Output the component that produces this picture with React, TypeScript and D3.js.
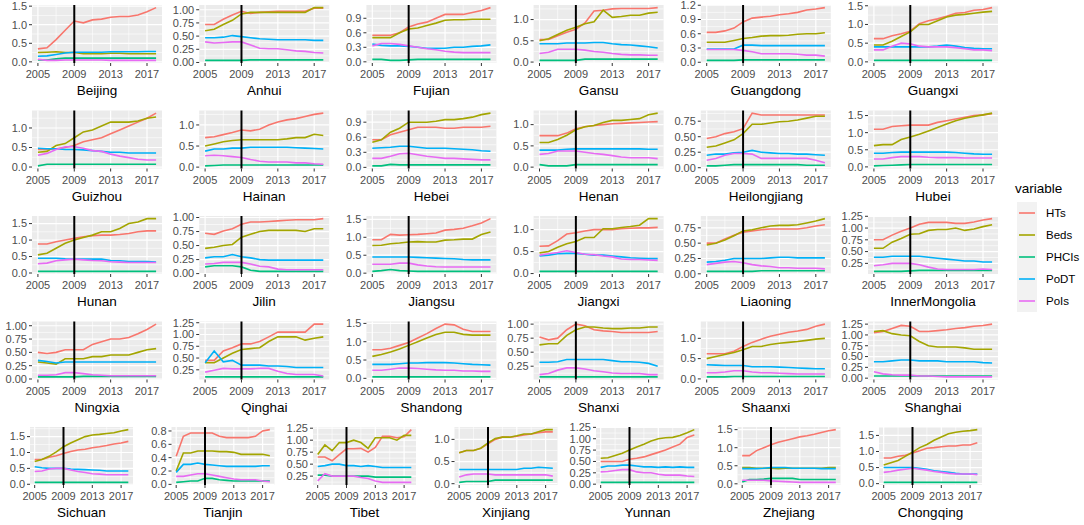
import React from 'react';
import * as d3 from 'd3';

const FONT = '"Liberation Sans", Arial, sans-serif';

const years = [2005, 2006, 2007, 2008, 2009, 2010, 2011, 2012, 2013, 2014, 2015, 2016, 2017, 2018];
const xTicks = [2005, 2009, 2013, 2017];
const reformYear = 2009;

const provinces = [
  'Beijing', 'Anhui', 'Fujian', 'Gansu', 'Guangdong', 'Guangxi',
  'Guizhou', 'Hainan', 'Hebei', 'Henan', 'Heilongjiang', 'Hubei',
  'Hunan', 'Jilin', 'Jiangsu', 'Jiangxi', 'Liaoning', 'InnerMongolia',
  'Ningxia', 'Qinghai', 'Shandong', 'Shanxi', 'Shaanxi', 'Shanghai',
  'Sichuan', 'Tianjin', 'Tibet', 'Xinjiang', 'Yunnan', 'Zhejiang', 'Chongqing',
];

const seriesNames = ['HTs', 'Beds', 'PHCIs', 'PoDT', 'PoIs'];
const colors = ['#F8766D', '#A3A500', '#00BF7D', '#00B0F6', '#E76BF3'];

// one row per province, same order as provinces
const HTs: number[][] = [
  [0.35, 0.38, 0.6, 0.85, 1.1, 1.05, 1.13, 1.15, 1.2, 1.22, 1.22, 1.26, 1.35, 1.46],
  [0.72, 0.72, 0.82, 0.9, 0.97, 0.93, 0.95, 0.96, 0.97, 0.97, 0.97, 0.97, 1.03, 1.03],
  [0.55, 0.55, 0.55, 0.6, 0.72, 0.78, 0.82, 0.9, 0.98, 0.98, 0.98, 1.02, 1.06, 1.12],
  [0.53, 0.53, 0.62, 0.7, 0.77, 0.92, 1.2, 1.22, 1.25, 1.26, 1.26, 1.26, 1.26, 1.28],
  [0.63, 0.63, 0.66, 0.72, 0.85, 0.93, 0.95, 0.97, 1.0, 1.02, 1.05, 1.1, 1.12, 1.15],
  [0.62, 0.62, 0.7, 0.75, 0.82, 1.02, 1.1, 1.15, 1.22, 1.3, 1.32, 1.38, 1.4, 1.45],
  [0.45, 0.45, 0.47, 0.5, 0.55, 0.65, 0.7, 0.75, 0.85, 0.95, 1.05, 1.15, 1.25, 1.38],
  [0.7, 0.72, 0.77, 0.82, 0.88, 0.86, 0.9, 1.0, 1.07, 1.12, 1.15, 1.2, 1.25, 1.28],
  [0.55, 0.55, 0.65, 0.7, 0.75, 0.8, 0.8, 0.8, 0.78, 0.78, 0.8, 0.8, 0.8, 0.82],
  [0.74, 0.74, 0.74, 0.8, 0.9, 0.95, 0.98, 1.0, 1.02, 1.03, 1.04, 1.05, 1.06, 1.07],
  [0.47, 0.5, 0.55, 0.58, 0.63, 0.88, 0.85, 0.85, 0.85, 0.85, 0.85, 0.85, 0.85, 0.85],
  [1.1, 1.1, 1.18, 1.2, 1.22, 1.22, 1.22, 1.3, 1.35, 1.4, 1.45, 1.5, 1.52, 1.55],
  [0.88, 0.88, 0.95, 1.0, 1.05, 1.1, 1.13, 1.15, 1.15, 1.17, 1.2, 1.25, 1.28, 1.28],
  [0.72, 0.7, 0.76, 0.8, 0.88, 0.92, 0.92, 0.93, 0.94, 0.95, 0.96, 0.96, 0.96, 0.98],
  [0.93, 0.93, 1.08, 1.06, 1.07, 1.08, 1.1, 1.12, 1.2, 1.22, 1.25, 1.32, 1.4, 1.52],
  [0.62, 0.63, 0.75, 0.9, 0.93, 0.97, 1.0, 1.0, 1.0, 1.02, 1.03, 1.04, 1.04, 1.05],
  [0.5, 0.5, 0.57, 0.63, 0.68, 0.7, 0.72, 0.73, 0.73, 0.73, 0.73, 0.75, 0.78, 0.8],
  [0.75, 0.75, 0.85, 0.93, 1.0, 1.08, 1.12, 1.12, 1.12, 1.1, 1.1, 1.13, 1.17, 1.2],
  [0.5, 0.48, 0.5, 0.55, 0.55, 0.55, 0.65, 0.7, 0.75, 0.75, 0.78, 0.85, 0.93, 1.03],
  [0.45, 0.45, 0.65, 0.72, 0.8, 0.8, 0.85, 0.95, 1.05, 1.05, 1.05, 1.05, 1.22, 1.22],
  [0.78, 0.78, 0.82, 0.9, 0.98, 1.1, 1.22, 1.36, 1.48, 1.46, 1.34, 1.28, 1.28, 1.28],
  [0.77, 0.72, 0.75, 0.9, 1.0, 0.97, 0.9, 0.88, 0.87, 0.85, 0.85, 0.85, 0.85, 0.87],
  [0.62, 0.62, 0.62, 0.68, 0.8, 0.9, 0.98, 1.05, 1.1, 1.15, 1.18, 1.22, 1.3, 1.35],
  [1.05, 1.08, 1.15, 1.22, 1.2, 1.08, 1.08, 1.1, 1.12, 1.15, 1.17, 1.2, 1.22, 1.25],
  [0.78, 0.78, 0.85, 0.9, 0.97, 1.03, 1.08, 1.1, 1.15, 1.18, 1.22, 1.27, 1.3, 1.35],
  [0.42, 0.72, 0.77, 0.77, 0.77, 0.77, 0.72, 0.7, 0.7, 0.7, 0.7, 0.72, 0.8, 0.82],
  [0.65, 0.65, 0.57, 0.7, 0.82, 0.82, 0.83, 0.75, 0.85, 1.08, 1.08, 1.05, 1.07, 1.22],
  [0.7, 0.75, 0.75, 0.8, 0.9, 1.0, 1.05, 1.05, 1.07, 1.1, 1.12, 1.15, 1.17, 1.17],
  [0.5, 0.5, 0.5, 0.5, 0.55, 0.57, 0.6, 0.65, 0.7, 0.75, 0.82, 0.88, 1.03, 1.08],
  [0.78, 0.78, 0.92, 1.0, 1.08, 1.15, 1.2, 1.25, 1.3, 1.33, 1.37, 1.42, 1.47, 1.5],
  [0.8, 0.8, 0.85, 0.88, 0.95, 1.02, 1.1, 1.12, 1.15, 1.17, 1.17, 1.2, 1.2, 1.27],
];

const Beds: number[][] = [
  [0.25, 0.26, 0.27, 0.25, 0.25, 0.22, 0.22, 0.22, 0.23, 0.23, 0.22, 0.22, 0.22, 0.22],
  [0.6, 0.63, 0.72, 0.8, 0.92, 0.95, 0.95, 0.95, 0.95, 0.95, 0.95, 0.95, 1.04, 1.04],
  [0.5, 0.5, 0.5, 0.6, 0.68, 0.7, 0.75, 0.8, 0.86, 0.87, 0.87, 0.88, 0.88, 0.88],
  [0.5, 0.55, 0.65, 0.75, 0.82, 0.9, 0.95, 1.22, 1.05, 1.07, 1.1, 1.1, 1.15, 1.17],
  [0.42, 0.42, 0.42, 0.46, 0.5, 0.52, 0.55, 0.56, 0.56, 0.57, 0.59, 0.6, 0.6, 0.62],
  [0.45, 0.45, 0.55, 0.68, 0.8, 1.0, 1.0, 1.1, 1.2, 1.25, 1.27, 1.3, 1.33, 1.35],
  [0.38, 0.4, 0.55, 0.6, 0.75, 0.9, 0.95, 1.05, 1.15, 1.15, 1.15, 1.18, 1.25, 1.28],
  [0.5, 0.55, 0.6, 0.63, 0.65, 0.65, 0.65, 0.65, 0.65, 0.67, 0.7, 0.7, 0.78, 0.75],
  [0.5, 0.55, 0.7, 0.78, 0.9, 0.9, 0.9, 0.92, 0.95, 0.95, 0.97, 1.0, 1.05, 1.08],
  [0.58, 0.58, 0.65, 0.75, 0.88, 0.95, 0.98, 1.05, 1.1, 1.1, 1.12, 1.14, 1.23, 1.27],
  [0.33, 0.35, 0.4, 0.45, 0.55, 0.7, 0.7, 0.72, 0.74, 0.75, 0.77, 0.8, 0.83, 0.83],
  [0.62, 0.65, 0.65, 0.8, 0.87, 0.95, 1.05, 1.15, 1.25, 1.35, 1.42, 1.47, 1.52, 1.57],
  [0.55, 0.6, 0.75, 0.9, 1.0, 1.08, 1.15, 1.25, 1.25, 1.35, 1.5, 1.55, 1.65, 1.65],
  [0.45, 0.47, 0.5, 0.52, 0.65, 0.7, 0.75, 0.77, 0.77, 0.77, 0.77, 0.75, 0.8, 0.8],
  [0.77, 0.78, 0.82, 0.84, 0.87, 0.88, 0.87, 0.87, 0.92, 0.93, 0.95, 0.95, 1.08, 1.15],
  [0.47, 0.5, 0.6, 0.68, 0.73, 0.82, 0.82, 1.02, 1.02, 1.05, 1.07, 1.1, 1.25, 1.25],
  [0.47, 0.5, 0.55, 0.62, 0.7, 0.72, 0.75, 0.78, 0.79, 0.79, 0.8, 0.83, 0.86, 0.9],
  [0.57, 0.57, 0.7, 0.78, 0.87, 0.88, 0.95, 0.97, 0.97, 1.0, 0.95, 0.98, 1.03, 1.07],
  [0.32, 0.3, 0.28, 0.38, 0.38, 0.38, 0.42, 0.42, 0.45, 0.45, 0.45, 0.5, 0.55, 0.57],
  [0.4, 0.4, 0.5, 0.6, 0.68, 0.7, 0.72, 0.85, 0.95, 0.95, 0.95, 0.88, 0.92, 0.95],
  [0.6, 0.65, 0.72, 0.8, 0.9, 1.0, 1.1, 1.2, 1.26, 1.26, 1.2, 1.18, 1.18, 1.18],
  [0.63, 0.65, 0.65, 0.8, 0.9, 0.95, 0.95, 0.93, 0.92, 0.92, 0.93, 0.93, 0.95, 0.95],
  [0.5, 0.55, 0.6, 0.65, 0.72, 0.8, 0.8, 0.85, 0.88, 0.9, 0.92, 0.95, 0.98, 1.0],
  [1.08, 1.1, 1.03, 1.0, 0.98, 0.85, 0.75, 0.72, 0.72, 0.72, 0.7, 0.67, 0.67, 0.67],
  [0.72, 0.78, 0.88, 1.02, 1.18, 1.3, 1.4, 1.5, 1.55, 1.57, 1.6, 1.62, 1.68, 1.72],
  [0.2, 0.47, 0.47, 0.5, 0.5, 0.5, 0.49, 0.49, 0.48, 0.45, 0.45, 0.45, 0.45, 0.43],
  [0.7, 0.9, 0.78, 0.95, 0.95, 1.0, 0.95, 0.83, 1.05, 1.05, 1.05, 1.0, 1.1, 1.1],
  [0.7, 0.75, 0.75, 0.8, 0.92, 1.02, 1.05, 1.05, 1.08, 1.12, 1.12, 1.17, 1.22, 1.22],
  [0.57, 0.58, 0.63, 0.68, 0.75, 0.82, 0.88, 0.95, 1.0, 1.02, 1.03, 1.07, 1.13, 1.2],
  [0.45, 0.45, 0.43, 0.43, 0.43, 0.42, 0.43, 0.43, 0.43, 0.43, 0.43, 0.43, 0.45, 0.45],
  [0.58, 0.65, 0.72, 0.85, 0.98, 1.12, 1.22, 1.35, 1.45, 1.55, 1.6, 1.63, 1.65, 1.68],
];

const PHCIs: number[][] = [
  [0.05, 0.05, 0.08, 0.1, 0.1, 0.1, 0.1, 0.1, 0.1, 0.1, 0.1, 0.1, 0.1, 0.1],
  [0.04, 0.04, 0.04, 0.04, 0.04, 0.05, 0.05, 0.05, 0.05, 0.05, 0.05, 0.05, 0.05, 0.05],
  [0.05, 0.05, 0.03, 0.03, 0.04, 0.05, 0.05, 0.05, 0.05, 0.05, 0.05, 0.05, 0.05, 0.05],
  [0.04, 0.04, 0.04, 0.04, 0.04, 0.07, 0.07, 0.07, 0.07, 0.07, 0.07, 0.07, 0.07, 0.07],
  [0.04, 0.04, 0.04, 0.04, 0.05, 0.05, 0.05, 0.05, 0.05, 0.05, 0.05, 0.05, 0.05, 0.05],
  [0.04, 0.04, 0.04, 0.04, 0.04, 0.04, 0.04, 0.04, 0.04, 0.04, 0.04, 0.04, 0.04, 0.04],
  [0.03, 0.07, 0.07, 0.07, 0.07, 0.07, 0.07, 0.07, 0.07, 0.07, 0.07, 0.07, 0.07, 0.07],
  [0.03, 0.04, 0.05, 0.05, 0.05, 0.05, 0.05, 0.05, 0.05, 0.05, 0.05, 0.05, 0.05, 0.05],
  [0.03, 0.03, 0.06, 0.05, 0.05, 0.05, 0.05, 0.05, 0.05, 0.05, 0.05, 0.05, 0.05, 0.05],
  [0.06, 0.03, 0.03, 0.03, 0.06, 0.06, 0.06, 0.06, 0.06, 0.06, 0.06, 0.06, 0.06, 0.06],
  [0.03, 0.03, 0.04, 0.05, 0.05, 0.05, 0.05, 0.05, 0.05, 0.05, 0.05, 0.04, 0.04, 0.04],
  [0.03, 0.04, 0.05, 0.06, 0.07, 0.07, 0.07, 0.07, 0.07, 0.07, 0.07, 0.07, 0.07, 0.07],
  [0.05, 0.05, 0.05, 0.05, 0.05, 0.05, 0.05, 0.05, 0.05, 0.05, 0.05, 0.05, 0.05, 0.05],
  [0.12, 0.14, 0.14, 0.14, 0.12, 0.06, 0.04, 0.04, 0.04, 0.04, 0.04, 0.04, 0.04, 0.04],
  [0.05, 0.07, 0.1, 0.07, 0.06, 0.05, 0.05, 0.05, 0.05, 0.05, 0.05, 0.05, 0.05, 0.05],
  [0.05, 0.05, 0.05, 0.05, 0.05, 0.05, 0.05, 0.05, 0.05, 0.05, 0.05, 0.05, 0.05, 0.05],
  [0.04, 0.04, 0.04, 0.04, 0.04, 0.04, 0.05, 0.05, 0.05, 0.05, 0.05, 0.05, 0.05, 0.05],
  [0.08, 0.08, 0.08, 0.08, 0.09, 0.1, 0.1, 0.1, 0.1, 0.1, 0.1, 0.1, 0.1, 0.1],
  [0.04, 0.04, 0.04, 0.04, 0.04, 0.05, 0.05, 0.05, 0.05, 0.05, 0.05, 0.05, 0.05, 0.05],
  [0.1, 0.1, 0.1, 0.1, 0.1, 0.1, 0.1, 0.1, 0.1, 0.1, 0.1, 0.1, 0.1, 0.1],
  [0.04, 0.04, 0.04, 0.04, 0.04, 0.04, 0.04, 0.04, 0.04, 0.04, 0.04, 0.04, 0.04, 0.04],
  [0.06, 0.06, 0.06, 0.06, 0.06, 0.06, 0.06, 0.06, 0.06, 0.06, 0.06, 0.06, 0.06, 0.06],
  [0.05, 0.05, 0.05, 0.06, 0.06, 0.06, 0.06, 0.06, 0.06, 0.06, 0.06, 0.06, 0.06, 0.06],
  [0.05, 0.05, 0.05, 0.05, 0.05, 0.05, 0.05, 0.05, 0.05, 0.05, 0.05, 0.05, 0.05, 0.05],
  [0.06, 0.06, 0.06, 0.06, 0.06, 0.06, 0.06, 0.06, 0.06, 0.06, 0.06, 0.06, 0.06, 0.06],
  [0.03, 0.04, 0.05, 0.05, 0.09, 0.09, 0.07, 0.06, 0.05, 0.05, 0.05, 0.05, 0.05, 0.05],
  [0.27, 0.27, 0.25, 0.25, 0.25, 0.25, 0.25, 0.25, 0.23, 0.23, 0.23, 0.23, 0.23, 0.23],
  [0.03, 0.05, 0.05, 0.05, 0.05, 0.08, 0.08, 0.08, 0.08, 0.08, 0.08, 0.08, 0.08, 0.08],
  [0.04, 0.04, 0.04, 0.04, 0.04, 0.04, 0.04, 0.04, 0.04, 0.04, 0.04, 0.04, 0.04, 0.04],
  [0.05, 0.12, 0.12, 0.13, 0.15, 0.15, 0.15, 0.15, 0.12, 0.12, 0.12, 0.12, 0.12, 0.12],
  [0.04, 0.04, 0.04, 0.04, 0.04, 0.04, 0.04, 0.04, 0.04, 0.04, 0.04, 0.04, 0.04, 0.04],
];

const PoDT: number[][] = [
  [0.15, 0.16, 0.2, 0.24, 0.26, 0.26, 0.26, 0.26, 0.27, 0.27, 0.27, 0.27, 0.28, 0.28],
  [0.47, 0.47, 0.48, 0.51, 0.49, 0.47, 0.45, 0.44, 0.43, 0.43, 0.43, 0.43, 0.42, 0.42],
  [0.37, 0.34, 0.33, 0.33, 0.32, 0.3, 0.28, 0.28, 0.28, 0.3, 0.3, 0.32, 0.33, 0.35],
  [0.43, 0.43, 0.43, 0.45, 0.45, 0.45, 0.46, 0.46, 0.43, 0.41, 0.4, 0.38, 0.36, 0.33],
  [0.28, 0.28, 0.28, 0.28, 0.36, 0.36, 0.35, 0.35, 0.35, 0.35, 0.35, 0.35, 0.35, 0.35],
  [0.4, 0.4, 0.4, 0.4, 0.4, 0.4, 0.4, 0.42, 0.45, 0.42, 0.38, 0.36, 0.35, 0.35],
  [0.48, 0.47, 0.47, 0.45, 0.45, 0.44, 0.42, 0.4, 0.38, 0.38, 0.36, 0.36, 0.36, 0.36],
  [0.38, 0.43, 0.43, 0.45, 0.45, 0.47, 0.47, 0.47, 0.47, 0.47, 0.46, 0.45, 0.44, 0.43],
  [0.38, 0.39, 0.4, 0.42, 0.42, 0.4, 0.38, 0.38, 0.38, 0.37, 0.36, 0.35, 0.33, 0.32],
  [0.4, 0.4, 0.4, 0.42, 0.43, 0.43, 0.43, 0.43, 0.43, 0.43, 0.43, 0.43, 0.42, 0.42],
  [0.2, 0.22, 0.22, 0.24, 0.25, 0.28, 0.25, 0.24, 0.23, 0.23, 0.22, 0.22, 0.21, 0.2],
  [0.4, 0.4, 0.42, 0.43, 0.43, 0.43, 0.43, 0.43, 0.43, 0.42, 0.4, 0.38, 0.37, 0.37],
  [0.45, 0.45, 0.45, 0.43, 0.42, 0.42, 0.42, 0.42, 0.38, 0.37, 0.35, 0.35, 0.35, 0.33],
  [0.28, 0.3, 0.3, 0.34, 0.3, 0.28, 0.25, 0.24, 0.24, 0.24, 0.24, 0.24, 0.24, 0.24],
  [0.45, 0.45, 0.45, 0.45, 0.45, 0.44, 0.43, 0.42, 0.41, 0.4, 0.38, 0.37, 0.37, 0.37],
  [0.4, 0.42, 0.45, 0.46, 0.46, 0.44, 0.42, 0.42, 0.4, 0.38, 0.36, 0.35, 0.34, 0.34],
  [0.19, 0.2, 0.22, 0.25, 0.25, 0.25, 0.25, 0.26, 0.27, 0.27, 0.26, 0.26, 0.26, 0.26],
  [0.38, 0.38, 0.4, 0.4, 0.4, 0.4, 0.38, 0.36, 0.34, 0.32, 0.3, 0.3, 0.28, 0.28],
  [0.35, 0.33, 0.3, 0.32, 0.32, 0.32, 0.32, 0.32, 0.32, 0.32, 0.32, 0.32, 0.32, 0.32],
  [0.4, 0.65, 0.42, 0.45, 0.35, 0.35, 0.35, 0.33, 0.33, 0.32, 0.3, 0.3, 0.3, 0.3],
  [0.38, 0.38, 0.38, 0.4, 0.42, 0.42, 0.43, 0.43, 0.43, 0.42, 0.4, 0.38, 0.37, 0.36],
  [0.32, 0.32, 0.33, 0.37, 0.37, 0.37, 0.37, 0.37, 0.35, 0.33, 0.33, 0.32, 0.3, 0.25],
  [0.35, 0.34, 0.33, 0.33, 0.33, 0.3, 0.3, 0.3, 0.29, 0.28, 0.27, 0.26, 0.25, 0.25],
  [0.38, 0.38, 0.4, 0.42, 0.42, 0.4, 0.4, 0.4, 0.38, 0.38, 0.38, 0.38, 0.36, 0.35],
  [0.55, 0.52, 0.5, 0.5, 0.5, 0.48, 0.47, 0.46, 0.45, 0.44, 0.42, 0.42, 0.42, 0.42],
  [0.18, 0.3, 0.3, 0.32, 0.3, 0.29, 0.28, 0.27, 0.27, 0.27, 0.27, 0.27, 0.28, 0.28],
  [0.45, 0.47, 0.5, 0.5, 0.47, 0.47, 0.45, 0.47, 0.45, 0.43, 0.43, 0.43, 0.43, 0.43],
  [0.32, 0.32, 0.32, 0.32, 0.32, 0.32, 0.32, 0.32, 0.32, 0.35, 0.35, 0.37, 0.36, 0.35],
  [0.37, 0.4, 0.4, 0.42, 0.42, 0.4, 0.38, 0.38, 0.37, 0.38, 0.37, 0.38, 0.37, 0.37],
  [0.42, 0.42, 0.42, 0.43, 0.45, 0.45, 0.45, 0.43, 0.43, 0.43, 0.43, 0.42, 0.42, 0.42],
  [0.5, 0.5, 0.5, 0.5, 0.5, 0.48, 0.45, 0.4, 0.38, 0.35, 0.32, 0.3, 0.3, 0.3],
];

const PoIs: number[][] = [
  [0.07, 0.04, 0.04, 0.05, 0.05, 0.05, 0.05, 0.05, 0.04, 0.04, 0.04, 0.04, 0.04, 0.04],
  [0.39, 0.37, 0.38, 0.39, 0.39, 0.33, 0.27, 0.26, 0.26, 0.24, 0.22, 0.21, 0.19, 0.18],
  [0.33, 0.38, 0.38, 0.36, 0.33, 0.3, 0.27, 0.25, 0.22, 0.2, 0.19, 0.19, 0.19, 0.19],
  [0.2, 0.23, 0.3, 0.3, 0.3, 0.28, 0.25, 0.23, 0.2, 0.18, 0.17, 0.17, 0.16, 0.16],
  [0.27, 0.27, 0.27, 0.27, 0.25, 0.22, 0.18, 0.18, 0.18, 0.18, 0.17, 0.15, 0.15, 0.13],
  [0.32, 0.32, 0.42, 0.5, 0.48, 0.42, 0.4, 0.4, 0.4, 0.38, 0.35, 0.32, 0.32, 0.3],
  [0.3, 0.35, 0.45, 0.52, 0.52, 0.48, 0.42, 0.4, 0.33, 0.28, 0.24, 0.2, 0.18, 0.18],
  [0.27, 0.28, 0.27, 0.25, 0.23, 0.18, 0.14, 0.12, 0.12, 0.12, 0.1, 0.1, 0.08, 0.07],
  [0.18, 0.18, 0.22, 0.27, 0.28, 0.25, 0.22, 0.2, 0.18, 0.18, 0.17, 0.16, 0.15, 0.15],
  [0.3, 0.32, 0.38, 0.38, 0.38, 0.35, 0.32, 0.3, 0.27, 0.24, 0.22, 0.22, 0.22, 0.2],
  [0.12, 0.15, 0.2, 0.23, 0.23, 0.22, 0.15, 0.15, 0.15, 0.15, 0.15, 0.15, 0.12, 0.08],
  [0.23, 0.23, 0.27, 0.3, 0.3, 0.3, 0.28, 0.27, 0.27, 0.27, 0.26, 0.26, 0.26, 0.26],
  [0.28, 0.3, 0.37, 0.4, 0.42, 0.4, 0.38, 0.37, 0.34, 0.33, 0.32, 0.32, 0.32, 0.32],
  [0.17, 0.18, 0.2, 0.2, 0.2, 0.17, 0.13, 0.12, 0.08, 0.07, 0.07, 0.07, 0.07, 0.07],
  [0.25, 0.25, 0.25, 0.28, 0.28, 0.23, 0.2, 0.18, 0.17, 0.17, 0.17, 0.17, 0.17, 0.17],
  [0.42, 0.45, 0.48, 0.52, 0.48, 0.44, 0.43, 0.4, 0.38, 0.33, 0.32, 0.32, 0.31, 0.3],
  [0.15, 0.17, 0.19, 0.2, 0.18, 0.15, 0.13, 0.12, 0.1, 0.1, 0.09, 0.09, 0.09, 0.08],
  [0.2, 0.22, 0.25, 0.25, 0.25, 0.22, 0.17, 0.13, 0.12, 0.12, 0.12, 0.12, 0.13, 0.12],
  [0.07, 0.07, 0.08, 0.12, 0.12, 0.1, 0.08, 0.07, 0.06, 0.06, 0.06, 0.06, 0.06, 0.06],
  [0.2, 0.24, 0.28, 0.27, 0.27, 0.27, 0.28, 0.28, 0.22, 0.17, 0.15, 0.15, 0.15, 0.12],
  [0.22, 0.22, 0.25, 0.28, 0.28, 0.27, 0.25, 0.23, 0.22, 0.22, 0.2, 0.2, 0.19, 0.19],
  [0.1, 0.12, 0.18, 0.22, 0.22, 0.2, 0.17, 0.15, 0.13, 0.12, 0.12, 0.12, 0.1, 0.1],
  [0.15, 0.15, 0.17, 0.2, 0.2, 0.17, 0.15, 0.15, 0.14, 0.13, 0.12, 0.12, 0.12, 0.12],
  [0.15, 0.1, 0.08, 0.07, 0.07, 0.05, 0.05, 0.04, 0.03, 0.03, 0.03, 0.03, 0.03, 0.03],
  [0.4, 0.42, 0.48, 0.5, 0.5, 0.45, 0.4, 0.37, 0.33, 0.32, 0.3, 0.3, 0.3, 0.3],
  [0.12, 0.12, 0.14, 0.16, 0.16, 0.14, 0.12, 0.1, 0.08, 0.07, 0.07, 0.07, 0.05, 0.04],
  [0.15, 0.3, 0.25, 0.25, 0.25, 0.25, 0.22, 0.2, 0.15, 0.12, 0.12, 0.12, 0.12, 0.12],
  [0.15, 0.2, 0.22, 0.22, 0.22, 0.2, 0.2, 0.2, 0.2, 0.2, 0.2, 0.2, 0.2, 0.17],
  [0.27, 0.28, 0.3, 0.32, 0.32, 0.27, 0.25, 0.25, 0.22, 0.2, 0.2, 0.2, 0.18, 0.17],
  [0.1, 0.1, 0.1, 0.1, 0.08, 0.07, 0.06, 0.05, 0.04, 0.04, 0.04, 0.04, 0.04, 0.04],
  [0.35, 0.38, 0.42, 0.45, 0.48, 0.45, 0.42, 0.38, 0.35, 0.32, 0.3, 0.3, 0.3, 0.28],
];

const seriesData = [HTs, Beds, PHCIs, PoDT, PoIs];

// y tick labels of each panel
const yTicks: number[][] = [
  [0, 0.5, 1, 1.5], [0, 0.25, 0.5, 0.75, 1], [0, 0.3, 0.6, 0.9], [0, 0.5, 1], [0, 0.3, 0.6, 0.9, 1.2], [0, 0.5, 1, 1.5],
  [0, 0.5, 1], [0, 0.5, 1], [0, 0.3, 0.6, 0.9], [0, 0.5, 1], [0, 0.25, 0.5, 0.75], [0, 0.5, 1, 1.5],
  [0, 0.5, 1, 1.5], [0, 0.25, 0.5, 0.75, 1], [0, 0.5, 1, 1.5], [0, 0.5, 1], [0, 0.25, 0.5, 0.75], [0.25, 0.5, 0.75, 1, 1.25],
  [0, 0.25, 0.5, 0.75, 1], [0.25, 0.5, 0.75, 1, 1.25], [0, 0.5, 1, 1.5], [0.25, 0.5, 0.75, 1], [0, 0.5, 1], [0, 0.25, 0.5, 0.75, 1, 1.25],
  [0, 0.5, 1, 1.5], [0, 0.2, 0.4, 0.6, 0.8], [0.25, 0.5, 0.75, 1, 1.25], [0, 0.5, 1], [0, 0.25, 0.5, 0.75, 1, 1.25], [0, 0.5, 1, 1.5], [0, 0.5, 1, 1.5],
];

const panelBox = (k: number) => {
  const row = k < 24 ? Math.floor(k / 6) : 4;
  const col = k < 24 ? k % 6 : k - 24;
  const right = row < 4 ? 162 + col * 167.2 : 133 + col * 141.5;
  const width = row < 4 ? 130 : 103;
  const top = 5 + row * 105.5;
  return { left: right - width, right, top, bottom: top + 58 };
};

const Panel: React.FC<{ k: number }> = ({ k }) => {
  const { left, right, top, bottom } = panelBox(k);
  const series = seriesData.map((s) => s[k]);
  const all = series.flat();
  const lo = d3.min(all) as number;
  const hi = d3.max(all) as number;
  const pad = (hi - lo) * 0.05;
  const xPad = (years[years.length - 1] - years[0]) * 0.05;
  const x = d3.scaleLinear([years[0] - xPad, years[years.length - 1] + xPad], [left, right]);
  const y = d3.scaleLinear([lo - pad, hi + pad], [bottom, top]);
  const [d0, d1] = y.domain();
  const step = yTicks[k][1] - yTicks[k][0];
  const ticks = yTicks[k].filter((v) => v >= d0 && v <= d1);
  const fmt = d3.format(Math.round(step * 100) % 10 === 0 ? '.1f' : '.2f');
  const yMinor = [yTicks[k][0] - step / 2, ...yTicks[k].map((t) => t + step / 2)].filter((v) => v > d0 && v < d1);
  const xMinor = xTicks.slice(1).map((t, i) => (t + xTicks[i]) / 2);
  const line = d3.line<number>().x((_, i) => x(years[i])).y((v) => y(v));

  return (
    <g>
      <rect x={left} y={top} width={right - left} height={bottom - top} fill="#EBEBEB" />
      {yMinor.map((v) => (
        <line key={'ym' + v} x1={left} x2={right} y1={y(v)} y2={y(v)} stroke="#fff" strokeWidth={0.6} />
      ))}
      {xMinor.map((v) => (
        <line key={'xm' + v} x1={x(v)} x2={x(v)} y1={top} y2={bottom} stroke="#fff" strokeWidth={0.6} />
      ))}
      {ticks.map((v) => (
        <line key={'yg' + v} x1={left} x2={right} y1={y(v)} y2={y(v)} stroke="#fff" strokeWidth={1.2} />
      ))}
      {xTicks.map((v) => (
        <line key={'xg' + v} x1={x(v)} x2={x(v)} y1={top} y2={bottom} stroke="#fff" strokeWidth={1.2} />
      ))}
      {series.map((s, i) => (
        <path key={seriesNames[i]} d={line(s) ?? ''} fill="none" stroke={colors[i]} strokeWidth={1.6} />
      ))}
      <line x1={x(reformYear)} x2={x(reformYear)} y1={top} y2={bottom} stroke="#000" strokeWidth={2} />
      {ticks.map((v) => (
        <g key={'yt' + v}>
          <line x1={left - 3} x2={left} y1={y(v)} y2={y(v)} stroke="#333" strokeWidth={1} />
          <text x={left - 5} y={y(v)} dy="0.35em" textAnchor="end" fontSize={11} fill="#4D4D4D">
            {fmt(v)}
          </text>
        </g>
      ))}
      {xTicks.map((v) => (
        <g key={'xt' + v}>
          <line x1={x(v)} x2={x(v)} y1={bottom} y2={bottom + 3} stroke="#333" strokeWidth={1} />
          <text x={x(v)} y={bottom + 15} textAnchor="middle" fontSize={11} fill="#4D4D4D">
            {v}
          </text>
        </g>
      ))}
      <text x={(left + right) / 2} y={bottom + 32} textAnchor="middle" fontSize={13.5} fill="#000">
        {provinces[k]}
      </text>
    </g>
  );
};

const Legend: React.FC = () => {
  const key = d3.scaleBand(seriesNames, [202, 312]);
  return (
    <g>
      <text x={1015} y={193} fontSize={13.5} fill="#000">variable</text>
      {seriesNames.map((name, i) => {
        const y0 = key(name) as number;
        const cy = y0 + key.bandwidth() / 2;
        return (
          <g key={name}>
            <rect x={1017} y={y0} width={20} height={key.bandwidth()} fill="#F2F2F2" />
            <line x1={1019} x2={1035} y1={cy} y2={cy} stroke={colors[i]} strokeWidth={1.6} />
            <text x={1046} y={cy} dy="0.35em" fontSize={11.5} fill="#000">{name}</text>
          </g>
        );
      })}
    </g>
  );
};

const App: React.FC = () => (
  <svg
    width={1084}
    height={525}
    style={{ position: 'absolute', left: 0, top: 0, background: '#fff', fontFamily: FONT }}
  >
    {provinces.map((p, k) => (
      <Panel key={p} k={k} />
    ))}
    <Legend />
  </svg>
);

export default App;
